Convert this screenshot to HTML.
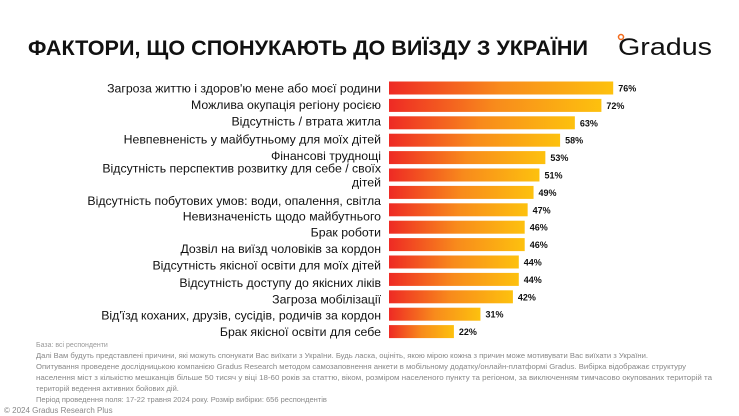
<!DOCTYPE html>
<html><head><meta charset="utf-8">
<style>
body{margin:0;background:#fff;width:739px;height:416px;overflow:hidden;font-family:"Liberation Sans","Noto Sans CJK SC",sans-serif;}
svg{display:block}
</style></head>
<body>
<svg width="739" height="416">
<defs>
<linearGradient id="g" x1="0" x2="1" y1="0" y2="0">
<stop offset="0" stop-color="#ee2a24"/><stop offset="0.5" stop-color="#f88b1c"/><stop offset="1" stop-color="#fdc10e"/>
</linearGradient>
</defs>
<text x="28" y="55" font-size="21" font-weight="bold" fill="#111" textLength="560" lengthAdjust="spacingAndGlyphs">ФАКТОРИ, ЩО СПОНУКАЮТЬ ДО ВИЇЗДУ З УКРАЇНИ</text>
<g>
<circle cx="621" cy="37" r="2.5" fill="none" stroke="#f26a1b" stroke-width="1.5"/>
<text x="618" y="55" font-size="24" fill="#111" textLength="94" lengthAdjust="spacingAndGlyphs">Gradus</text>
</g>
<g id="bars"></g>
<text x="36" y="347" font-size="7" fill="#999">База: всі респонденти</text>
<g font-size="7.5" fill="#888">
<text x="36" y="358" textLength="612" lengthAdjust="spacingAndGlyphs">Далі Вам будуть представлені причини, які можуть спонукати Вас виїхати з України. Будь ласка, оцініть, якою мірою кожна з причин може мотивувати Вас виїхати з України.</text>
<text x="36" y="369" textLength="650" lengthAdjust="spacingAndGlyphs">Опитування проведене дослідницькою компанією Gradus Research методом самозаповнення анкети в мобільному додатку/онлайн-платформі Gradus. Вибірка відображає структуру</text>
<text x="36" y="380" textLength="676" lengthAdjust="spacingAndGlyphs">населення міст з кількістю мешканців більше 50 тисяч у віці 18-60 років за статтю, віком, розміром населеного пункту та регіоном, за виключенням тимчасово окупованих територій та</text>
<text x="36" y="391">територій ведення активних бойових дій.</text>
<text x="36" y="402">Період проведення поля: 17-22 травня 2024 року. Розмір вибірки: 656 респондентів</text>
</g>
<text x="4" y="413" font-size="8" fill="#888">© 2024 Gradus Research Plus</text>
</svg>
<script>
const categories=["Загроза життю і здоров'ю мене або моєї родини","Можлива окупація регіону росією","Відсутність / втрата житла","Невпевненість у майбутньому для моїх дітей","Фінансові труднощі","Відсутність перспектив розвитку для себе / своїх|дітей","Відсутність побутових умов: води, опалення, світла","Невизначеність щодо майбутнього","Брак роботи","Дозвіл на виїзд чоловіків за кордон","Відсутність якісної освіти для моїх дітей","Відсутність доступу до якісних ліків","Загроза мобілізації","Від'їзд коханих, друзів, сусідів, родичів за кордон","Брак якісної освіти для себе"];
const values=[76,72,63,58,53,51,49,47,46,46,44,44,42,31,22];
const valueLabels=["76%","72%","63%","58%","53%","51%","49%","47%","46%","46%","44%","44%","42%","31%","22%"];
const NS="http://www.w3.org/2000/svg";
const x0=389,pxPer=2.95,y0=88,step=17.4,bh=13;
// label vertical offsets relative to bar center (layout only)
const labelShift=[0,-1,-2,-1,-2,0,8,6,5,4,3,3,2,1,0];
const xs=v=>v*pxPer, ys=i=>y0+i*step;
const g=document.getElementById('bars');
categories.forEach((c,i)=>{
  const cy=ys(i);
  const r=document.createElementNS(NS,'rect');
  r.setAttribute('x',x0);r.setAttribute('y',cy-bh/2);r.setAttribute('width',xs(values[i]));r.setAttribute('height',bh);r.setAttribute('fill','url(#g)');
  
  
  g.appendChild(r);
  const v=document.createElementNS(NS,'text');
  v.setAttribute('x',x0+xs(values[i])+5);v.setAttribute('y',cy+3.5);v.setAttribute('font-size','9');v.setAttribute('font-weight','bold');v.setAttribute('fill','#111');
  v.textContent=valueLabels[i];
  
  
  g.appendChild(v);
  const parts=c.split('|');
  const lc=cy+labelShift[i];
  parts.forEach((p,k)=>{
    const t=document.createElementNS(NS,'text');
    const ty=parts.length>1?lc-2.5+k*14:lc+4.5;
    t.setAttribute('x',381);t.setAttribute('y',ty);t.setAttribute('font-size','12.3');t.setAttribute('fill','#111');t.setAttribute('text-anchor','end');
    t.textContent=p;
    
    
    g.appendChild(t);
  });
});
</script>
</body></html>
